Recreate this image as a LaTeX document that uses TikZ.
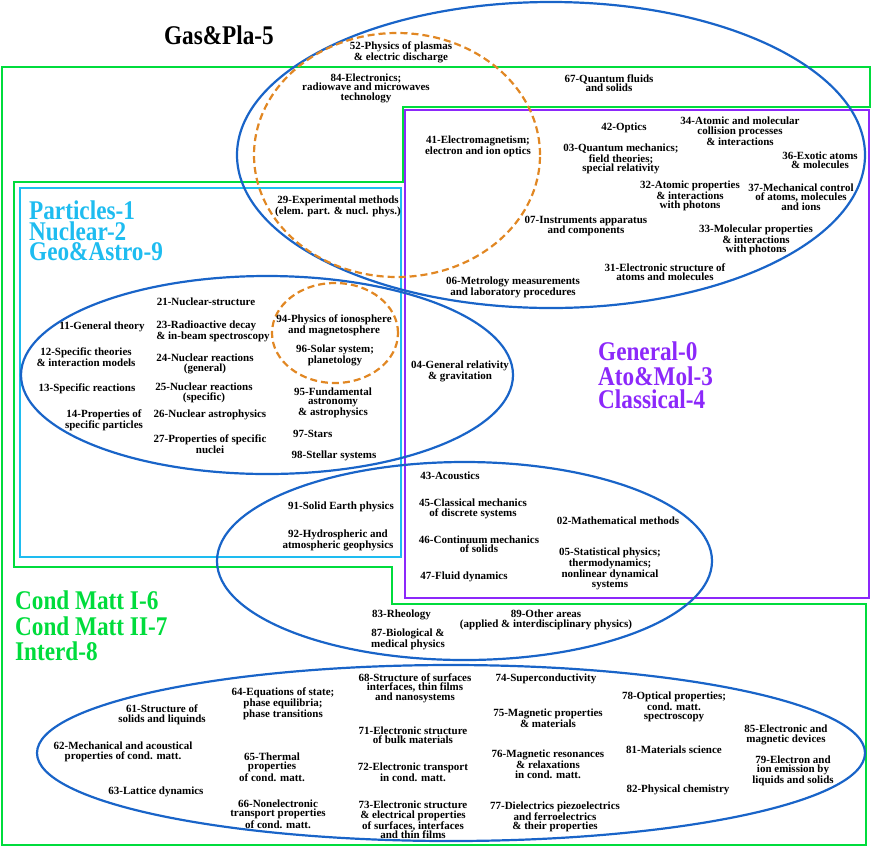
\documentclass[tikz,border=0pt]{standalone}
\usepackage{fontspec}
\setmainfont{Liberation Serif}
\newfontfamily\bigfont[FakeStretch=0.86]{Liberation Serif}
\definecolor{ellblue}{RGB}{25,100,200}
\definecolor{grn}{RGB}{0,220,60}
\definecolor{cyn}{RGB}{30,188,240}
\definecolor{purp}{RGB}{140,40,250}
\definecolor{orng}{RGB}{225,135,35}
\begin{document}
\begin{tikzpicture}[x=1pt,y=-1pt]
\tikzset{
  lbl/.style={font=\bfseries\fontsize{11}{9.5}\selectfont, align=center, inner sep=0pt},
  big/.style={font=\bigfont\bfseries\fontsize{27}{27}\selectfont, inner sep=0pt, anchor=west, text height=18pt, text depth=0pt},
  blueell/.style={draw=ellblue, line width=2.2pt},
  orell/.style={draw=orng, line width=2.2pt, dash pattern=on 7pt off 4pt},
  framegreen/.style={draw=grn, line width=2.2pt},
  framecyan/.style={draw=cyn, line width=2.2pt},
  framepurple/.style={draw=purp, line width=2.2pt}
}
\useasboundingbox (0,0) rectangle (872,847);
% frames
\draw[framegreen] (2,67) -- (870,67) -- (870,107) -- (403,107) -- (403,182) -- (14,182) -- (14,567) -- (392,567) -- (392,604) -- (866,604) -- (866,845) -- (2,845) -- cycle;
\draw[framepurple] (405,110) rectangle (869,598);
\draw[framecyan] (20,188) rectangle (401,557);
% ellipses
\draw[blueell] (551,155) ellipse [x radius=314pt, y radius=153pt];
\draw[orell] (397,155) ellipse [x radius=143pt, y radius=122pt];
\draw[blueell] (267,375) ellipse [x radius=246pt, y radius=99pt];
\draw[blueell] (464.5,561) ellipse [x radius=247.5pt, y radius=99pt];
\draw[blueell] (451,753) ellipse [x radius=414pt, y radius=88pt];
\draw[orell] (335,333) ellipse [x radius=63pt, y radius=50pt];
% big labels
\node[big, anchor=center] (gas) at (219,35) {Gas\&Pla-5};
\node[big, text=cyn] (part1) at (29,210) {Particles-1};
\node[big, text=cyn] (part2) at (29,231) {Nuclear-2};
\node[big, text=cyn] (part3) at (29,251.5) {Geo\&Astro-9};
\node[big, text=purp] (gen1) at (598,351) {General-0};
\node[big, text=purp] (gen2) at (598,376) {Ato\&Mol-3};
\node[big, text=purp] (gen3) at (598,399.5) {Classical-4};
\node[big, text=grn] (cond1) at (15,600) {Cond Matt I-6};
\node[big, text=grn] (cond2) at (15,626) {Cond Matt II-7};
\node[big, text=grn] (cond3) at (15,651) {Interd-8};
% top region
\node[lbl] (n52) at (401,52) {52-Physics of plasmas\\\& electric discharge};
\node[lbl] (n84) at (366,88) {84-Electronics;\\radiowave and microwaves\\technology};
\node[lbl] (n67) at (609,83) {67-Quantum fluids\\and solids};
\node[lbl] (n41) at (478,146) {41-Electromagnetism;\\electron and ion optics};
\node[lbl] (n42) at (624,128) {42-Optics};
\node[lbl] (n03) at (621,159) {03-Quantum mechanics;\\field theories;\\special relativity};
\node[lbl] (n34) at (740,131) {34-Atomic and molecular\\collision processes\\\& interactions};
\node[lbl] (n36) at (820,160) {36-Exotic atoms\\\& molecules};
\node[lbl] (n32) at (690,196) {32-Atomic properties\\\& interactions\\with photons};
\node[lbl] (n37) at (801,197) {37-Mechanical control\\of atoms, molecules\\and ions};
\node[lbl] (n07) at (586,226) {07-Instruments apparatus\\and components};
\node[lbl] (n33) at (756,240) {33-Molecular properties\\\& interactions\\with photons};
\node[lbl] (n31) at (665,272) {31-Electronic structure of\\atoms and molecules};
\node[lbl] (n06) at (513,287) {06-Metrology measurements\\and laboratory procedures};
\node[lbl] (n29) at (338,206) {29-Experimental methods\\(elem. part. \& nucl. phys.)};
% particles / nuclear / astro
\node[lbl] (n21) at (206,302) {21-Nuclear-structure};
\node[lbl] (n11) at (102,327) {11-General theory};
\node[lbl, align=left] (n23) at (213,331) {23-Radioactive decay\\\& in-beam spectroscopy};
\node[lbl] (n12) at (86,357) {12-Specific theories\\\& interaction models};
\node[lbl] (n24) at (205,364) {24-Nuclear reactions\\(general)};
\node[lbl] (n13) at (87,389) {13-Specific reactions};
\node[lbl] (n25) at (204,393) {25-Nuclear reactions\\(specific)};
\node[lbl] (n14) at (104,420) {14-Properties of\\specific particles};
\node[lbl] (n26) at (210,415) {26-Nuclear astrophysics};
\node[lbl] (n27) at (210,444) {27-Properties of specific\\nuclei};
\node[lbl] (n94) at (334,325) {94-Physics of ionosphere\\and magnetosphere};
\node[lbl] (n96) at (335,355) {96-Solar system;\\planetology};
\node[lbl] (n95) at (333,403) {95-Fundamental\\astronomy\\\& astrophysics};
\node[lbl, anchor=west] (n97) at (293,434) {97-Stars};
\node[lbl] (n98) at (334,456) {98-Stellar systems};
\node[lbl] (n04) at (460,371) {04-General relativity\\\& gravitation};
% classical / geo
\node[lbl] (n91) at (341,507) {91-Solid Earth physics};
\node[lbl] (n92) at (338,540) {92-Hydrospheric and\\atmospheric geophysics};
\node[lbl] (n43) at (450,476) {43-Acoustics};
\node[lbl] (n45) at (473,509) {45-Classical mechanics\\of discrete systems};
\node[lbl] (n02) at (618,521) {02-Mathematical methods};
\node[lbl] (n46) at (479,544) {46-Continuum mechanics\\of solids};
\node[lbl] (n05) at (610,569) {05-Statistical physics;\\thermodynamics;\\nonlinear dynamical\\systems};
\node[lbl] (n47) at (464,577) {47-Fluid dynamics};
\node[lbl, anchor=west] (n83) at (372,615) {83-Rheology};
\node[lbl] (n87) at (408,639) {87-Biological \&\\medical physics};
\node[lbl] (n89) at (546,620) {89-Other areas\\(applied \& interdisciplinary physics)};
% condensed matter
\node[lbl] (n61) at (162,715) {61-Structure of\\solids and liquinds};
\node[lbl] (n64) at (283,704) {64-Equations of state;\\phase equilibria;\\phase transitions};
\node[lbl] (n62) at (123,752) {62-Mechanical and acoustical\\properties of cond. matt.};
\node[lbl] (n65) at (272,767) {65-Thermal\\properties\\of cond. matt.};
\node[lbl] (n63) at (156,792) {63-Lattice dynamics};
\node[lbl] (n66) at (278,814) {66-Nonelectronic\\transport properties\\of cond. matt.};
\node[lbl] (n68) at (415,688) {68-Structure of surfaces\\interfaces, thin films\\and nanosystems};
\node[lbl] (n71) at (413,735) {71-Electronic structure\\of bulk materials};
\node[lbl] (n72) at (413,772) {72-Electronic transport\\in cond. matt.};
\node[lbl] (n73) at (413,820) {73-Electronic structure\\\& electrical properties\\of surfaces, interfaces\\and thin films};
\node[lbl] (n74) at (546,679) {74-Superconductivity};
\node[lbl] (n75) at (548,718) {75-Magnetic properties\\\& materials};
\node[lbl] (n76) at (548,764) {76-Magnetic resonances\\\& relaxations\\in cond. matt.};
\node[lbl] (n77) at (555,817) {77-Dielectrics piezoelectrics\\and ferroelectrics\\\& their properties};
\node[lbl] (n78) at (674,707) {78-Optical properties;\\cond. matt.\\spectroscopy};
\node[lbl] (n81) at (674,750) {81-Materials science};
\node[lbl] (n82) at (678,790) {82-Physical chemistry};
\node[lbl] (n85) at (786,735) {85-Electronic and\\magnetic devices};
\node[lbl] (n79) at (793,771) {79-Electron and\\ion emission by\\liquids and solids};
\end{tikzpicture}
\end{document}
